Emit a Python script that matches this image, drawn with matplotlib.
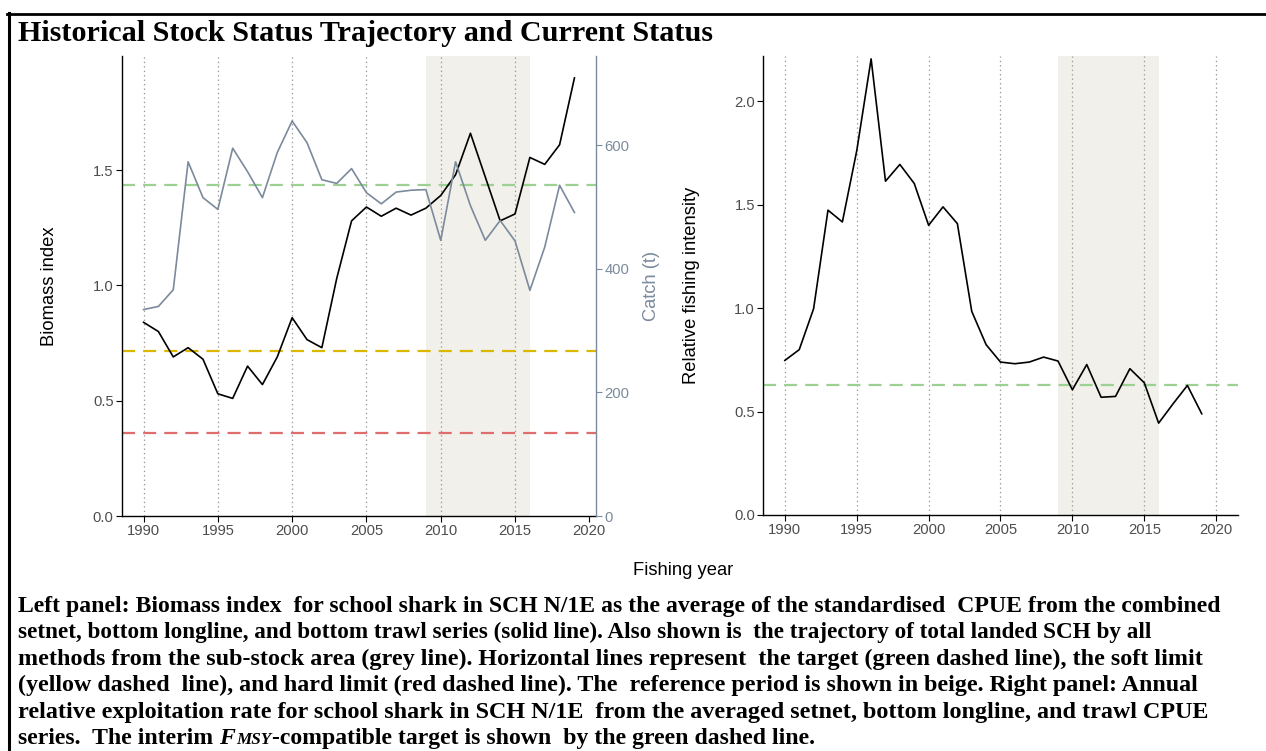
import matplotlib
matplotlib.use('Agg')
import matplotlib.pyplot as plt
from matplotlib.patches import Rectangle
from matplotlib.lines import Line2D

# ---------------- data ----------------
years = list(range(1990, 2020))
biomass = [0.84, 0.80, 0.69, 0.73, 0.68, 0.53, 0.51, 0.65, 0.57, 0.69,
           0.86, 0.765, 0.73, 1.03, 1.28, 1.34, 1.30, 1.335, 1.305, 1.335,
           1.39, 1.48, 1.66, 1.47, 1.28, 1.31, 1.555, 1.525, 1.61, 1.90]
catch = [334, 339, 366, 573, 515, 496, 595, 557, 515, 588,
         639, 604, 544, 538, 562, 523, 505, 524, 527, 528,
         446, 573, 502, 446, 478, 445, 365, 435, 535, 491]
fishing = [0.747, 0.799, 0.997, 1.473, 1.416, 1.76, 2.204, 1.613, 1.694, 1.602,
           1.400, 1.489, 1.408, 0.984, 0.823, 0.739, 0.731, 0.739, 0.763, 0.744,
           0.605, 0.727, 0.569, 0.573, 0.707, 0.639, 0.444, 0.537, 0.626, 0.489]
biomass_target = 1.435
soft_limit = 0.7175
hard_limit = 0.359
fmsy_target = 0.626
ref_period = (2009, 2016)
year_ticks = [1990, 1995, 2000, 2005, 2010, 2015, 2020]
biomass_ticks = [0.0, 0.5, 1.0, 1.5]
catch_ticks = [0, 200, 400, 600]
fishing_ticks = [0.0, 0.5, 1.0, 1.5, 2.0]

title = "Historical Stock Status Trajectory and Current Status"
caption_lines = [
    "Left panel: Biomass index  for school shark in SCH N/1E as the average of the standardised  CPUE from the combined",
    "setnet, bottom longline, and bottom trawl series (solid line). Also shown is  the trajectory of total landed SCH by all",
    "methods from the sub-stock area (grey line). Horizontal lines represent  the target (green dashed line), the soft limit",
    "(yellow dashed  line), and hard limit (red dashed line). The  reference period is shown in beige. Right panel: Annual",
    "relative exploitation rate for school shark in SCH N/1E  from the averaged setnet, bottom longline, and trawl CPUE",
]
caption_last = ["series.  The interim ", "F", "MSY", "-compatible target is shown  by the green dashed line."]

# ---------------- style ----------------
plt.rcParams['font.family'] = ['Liberation Sans', 'DejaVu Sans']
plt.rcParams['lines.scale_dashes'] = False
W, H = 1266, 751
fig = plt.figure(figsize=(W / 100, H / 100), dpi=100)

GREEN = '#9dd194'
YELLOW = '#dcb700'
RED = '#e06d6d'
SLATE = '#7b8a9c'
BEIGE = '#f1f0eb'
GRID = '#9a9a9a'
TICKC = '#4d4d4d'
tick_fs = 10.6
lab_fs = 13.2


def px_axes(l, t, r, b):
    return fig.add_axes([l / W, 1 - b / H, (r - l) / W, (b - t) / H])


def style(ax):
    for s in ['top', 'right']:
        ax.spines[s].set_visible(False)
    for s in ['left', 'bottom']:
        ax.spines[s].set_linewidth(1.0)
        ax.spines[s].set_color('black')
    ax.tick_params(axis='both', direction='out', length=4, width=0.8,
                   color='black', labelsize=tick_fs, labelcolor=TICKC, pad=2)


# ---------------- left panel ----------------
ax1 = px_axes(122, 56, 596, 516)
style(ax1)
ax1.set_xlim(1988.55, 2020.45)
ax1.set_ylim(0, 1.995)
ax1.add_patch(Rectangle((ref_period[0], 0), ref_period[1] - ref_period[0], 1.995,
                        facecolor=BEIGE, edgecolor='none', zorder=0))
for yr in year_ticks[:-1]:
    ax1.axvline(yr, color=GRID, ls=(0, (1, 2.2)), lw=0.9, zorder=1)
ax1.axhline(biomass_target, color=GREEN, lw=1.6, dashes=(9.4, 5.8), zorder=2)
ax1.axhline(soft_limit, color=YELLOW, lw=1.6, dashes=(9.4, 5.8), zorder=2)
ax1.axhline(hard_limit, color=RED, lw=1.6, dashes=(9.4, 5.8), zorder=2)
ax1.plot(years, biomass, color='black', lw=1.2, zorder=4)
ax1.set_xticks(year_ticks)
ax1.set_yticks(biomass_ticks)
ax1.set_yticklabels([f"{v:.1f}" for v in biomass_ticks])
ax1.set_ylabel("Biomass index", fontsize=lab_fs)
ax1.yaxis.set_label_coords(-0.134, 0.5)

ax2 = ax1.twinx()
ax2.set_ylim(0, 1.995 * 373)
for s in ['top', 'left', 'bottom']:
    ax2.spines[s].set_visible(False)
ax2.spines['right'].set_color(SLATE)
ax2.spines['right'].set_linewidth(1.0)
ax2.plot(years, catch, color=SLATE, lw=1.2, zorder=3)
ax2.set_yticks(catch_ticks)
ax2.tick_params(axis='y', direction='out', length=4, width=0.8, color=SLATE,
                labelsize=tick_fs, labelcolor=SLATE, pad=2)
ax2.set_ylabel("Catch (t)", fontsize=lab_fs, color=SLATE)
ax2.yaxis.set_label_coords(1.10, 0.5)

# ---------------- right panel ----------------
ax3 = px_axes(763.3, 56, 1237.7, 515)
style(ax3)
ax3.set_xlim(1988.5, 2021.5)
ax3.set_ylim(0, 2.218)
ax3.add_patch(Rectangle((ref_period[0], 0), ref_period[1] - ref_period[0], 2.218,
                        facecolor=BEIGE, edgecolor='none', zorder=0))
for yr in year_ticks:
    ax3.axvline(yr, color=GRID, ls=(0, (1, 2.2)), lw=0.9, zorder=1)
ax3.axhline(fmsy_target, color=GREEN, lw=1.6, dashes=(9.4, 5.8), zorder=2)
ax3.plot(years, fishing, color='black', lw=1.2, zorder=4)
ax3.set_xticks(year_ticks)
ax3.set_yticks(fishing_ticks)
ax3.set_yticklabels([f"{v:.1f}" for v in fishing_ticks])
ax3.set_ylabel("Relative fishing intensity", fontsize=lab_fs)
ax3.yaxis.set_label_coords(-0.133, 0.5)

fig.text(683 / W, 1 - 575 / H, "Fishing year", fontsize=lab_fs, ha='center', va='baseline')

# ---------------- frame ----------------
fig.add_artist(Line2D([7 / W, 1], [1 - 13.7 / H, 1 - 13.7 / H], transform=fig.transFigure,
                      color='black', lw=2.0))
fig.add_artist(Line2D([8.5 / W, 8.5 / W], [0, 1 - 12.5 / H], transform=fig.transFigure,
                      color='black', lw=2.2))

# ---------------- title & caption ----------------
serif = ['Liberation Serif', 'DejaVu Serif']
fig.canvas.draw()
r = fig.canvas.get_renderer()

t = fig.text(18 / W, 1 - 41 / H, title, fontsize=19, fontweight='bold', family=serif,
             ha='left', va='baseline')
w = t.get_window_extent(r).width
t.set_fontsize(19 * 694 / w)

base = [612, 638.4, 664.8, 691.2, 717.6, 744]
targets = [1200, 1090, 1195, 1180, 1195]
cap = []
w0 = None
for i, line in enumerate(caption_lines):
    c = fig.text(18 / W, 1 - base[i] / H, line, fontsize=13, fontweight='bold',
                 family=serif, ha='left', va='baseline')
    w = c.get_window_extent(r).width
    if i == 0:
        cfs = 13 * targets[0] / w
    # blend fitted size with common size to keep heights similar
    fs_fit = 13 * targets[i] / w
    c.set_fontsize(0.5 * fs_fit + 0.5 * cfs if i else cfs)
    cap.append(c)

x = 18
sizes = [cfs, cfs, cfs * 0.72, cfs]
styles_ = ['normal', 'italic', 'italic', 'normal']
for piece, fs, st in zip(caption_last, sizes, styles_):
    tt = fig.text(x / W, 1 - base[5] / H, piece, fontsize=fs, fontweight='bold',
                  fontstyle=st, family=serif, ha='left', va='baseline')
    x += tt.get_window_extent(r).width + (1 if st == 'italic' else 0)

fig.savefig('out.png', dpi=100)
